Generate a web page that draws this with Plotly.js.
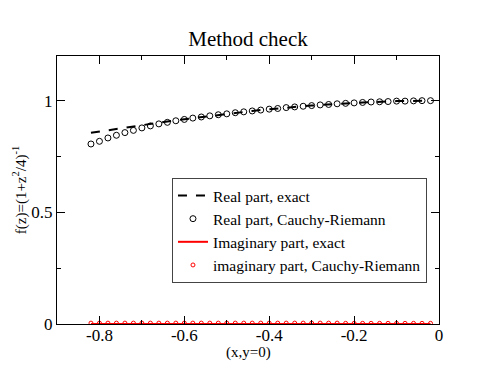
<!DOCTYPE html>
<html>
<head>
<meta charset="utf-8">
<script src="https://cdn.plot.ly/plotly-3.0.1.min.js"></script>
<style>
  body { margin: 0; background: #fff; }
  #chart { width: 494px; height: 382px; }
</style>
</head>
<body>
<div id="chart"></div>
<script>
// Sample points along the real axis (y=0)
var x_pts = [-0.82, -0.80, -0.78, -0.76, -0.74, -0.72, -0.70, -0.68, -0.66, -0.64,
             -0.62, -0.60, -0.58, -0.56, -0.54, -0.52, -0.50, -0.48, -0.46, -0.44,
             -0.42, -0.40, -0.38, -0.36, -0.34, -0.32, -0.30, -0.28, -0.26, -0.24,
             -0.22, -0.20, -0.18, -0.16, -0.14, -0.12, -0.10, -0.08, -0.06, -0.04, -0.02];

// Real part, exact
var re_exact = [0.856, 0.862, 0.868, 0.874, 0.880, 0.885, 0.891, 0.896, 0.902, 0.907,
                0.912, 0.917, 0.922, 0.927, 0.932, 0.937, 0.941, 0.946, 0.950, 0.954,
                0.958, 0.962, 0.965, 0.969, 0.972, 0.975, 0.978, 0.981, 0.983, 0.986,
                0.988, 0.990, 0.992, 0.994, 0.995, 0.996, 0.998, 0.998, 0.999, 1.000, 1.000];

// Real part, Cauchy-Riemann
var re_cr = [0.806, 0.818, 0.833, 0.845, 0.857, 0.867, 0.878, 0.887, 0.896, 0.903,
             0.910, 0.916, 0.922, 0.927, 0.932, 0.937, 0.941, 0.946, 0.950, 0.954,
             0.958, 0.962, 0.965, 0.969, 0.972, 0.975, 0.978, 0.981, 0.983, 0.986,
             0.988, 0.990, 0.992, 0.994, 0.995, 0.996, 0.998, 0.998, 0.999, 1.000, 1.000];

// Imaginary part, exact and Cauchy-Riemann
var im_exact = [0, 0, 0, 0, 0, 0, 0, 0, 0, 0, 0, 0, 0, 0, 0, 0, 0, 0, 0, 0, 0,
                0, 0, 0, 0, 0, 0, 0, 0, 0, 0, 0, 0, 0, 0, 0, 0, 0, 0, 0, 0];
var im_cr = [0.004, 0.004, 0.004, 0.004, 0.004, 0.004, 0.004, 0.004, 0.004, 0.004,
             0.004, 0.004, 0.004, 0.004, 0.004, 0.004, 0.004, 0.004, 0.004, 0.004,
             0.004, 0.004, 0.004, 0.004, 0.004, 0.004, 0.004, 0.004, 0.004, 0.004,
             0.003, 0.003, 0.003, 0.003, 0.003, 0.003, 0.003, 0.003, 0.003, 0.003, 0.003];

var x_ticks = [-0.8, -0.6, -0.4, -0.2, 0];
var x_labels = ["-0.8", "-0.6", "-0.4", "-0.2", "0"];
var y_ticks = [0, 0.5, 1];
var y_labels = ["0", "0.5", "1"];

var serif = "'Liberation Serif', 'Times New Roman', serif";

var traces = [
  {x: x_pts, y: re_exact, mode: "lines", name: "Real part, exact",
   line: {color: "black", width: 2, dash: "dash"}},
  {x: x_pts, y: re_cr, mode: "markers", name: "Real part, Cauchy-Riemann",
   marker: {symbol: "circle-open", size: 6, color: "black", line: {width: 1}}},
  {x: x_pts, y: im_exact, mode: "lines", name: "Imaginary part, exact",
   line: {color: "red", width: 2}},
  {x: x_pts, y: im_cr, mode: "markers", name: "imaginary part, Cauchy-Riemann",
   marker: {symbol: "circle-open", size: 4, color: "red", line: {width: 1}}}
];

var layout = {
  width: 494, height: 382,
  margin: {l: 57, r: 55, t: 56, b: 58},
  paper_bgcolor: "white", plot_bgcolor: "white",
  font: {family: serif, size: 17, color: "black"},
  title: {text: "Method check", font: {family: serif, size: 21, color: "black"},
          x: 0.502, xanchor: "center", y: 0.88, yanchor: "bottom"},
  xaxis: {
    range: [-0.9, 0], tickmode: "array", tickvals: x_ticks, ticktext: x_labels,
    showline: true, linecolor: "black", linewidth: 1, mirror: "ticks",
    ticks: "inside", ticklen: 8, tickcolor: "black", tickwidth: 1,
    ticklabelstandoff: -4,
    showgrid: false, zeroline: false,
    tickfont: {family: serif, size: 17, color: "black"},
    minor: {dtick: 0.1, ticks: "inside", ticklen: 4, tickcolor: "black", showgrid: false}
  },
  yaxis: {
    range: [0, 1.2], tickmode: "array", tickvals: y_ticks, ticktext: y_labels,
    showline: true, linecolor: "black", linewidth: 1, mirror: "ticks",
    ticks: "inside", ticklen: 8, tickcolor: "black", tickwidth: 1,
    showgrid: false, zeroline: false,
    tickfont: {family: serif, size: 17, color: "black"},
    minor: {dtick: 0.25, ticks: "inside", ticklen: 4, tickcolor: "black", showgrid: false},
    title: {text: "f(z)=(1+z<sup>2</sup>/4)<sup>-1</sup>", font: {family: serif, size: 15}, standoff: 1}
  },
  annotations: [
    {text: "(x,y=0)", xref: "paper", yref: "paper", x: 0.5, y: -0.105,
     xanchor: "center", yanchor: "middle", showarrow: false,
     font: {family: serif, size: 15, color: "black"}}
  ],
  legend: {
    x: 0.301, y: 0.545, xanchor: "left", yanchor: "top",
    bgcolor: "white", bordercolor: "#444", borderwidth: 1,
    font: {family: serif, size: 15.5, color: "black"},
    tracegroupgap: 0, itemwidth: 30
  },
  showlegend: true
};

Plotly.newPlot("chart", traces, layout, {displayModeBar: false, staticPlot: true});
</script>
</body>
</html>
